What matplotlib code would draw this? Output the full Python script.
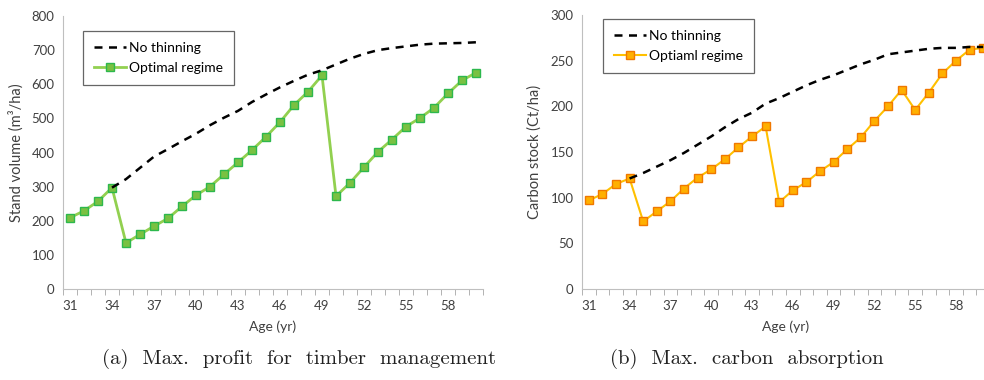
import numpy as np
import matplotlib
matplotlib.use("Agg")
import matplotlib.pyplot as plt

# ages on the category axis
ages = list(range(31, 61))

# (a) stand volume, m3/ha
vol_opt = [209, 229, 257, 297, 135, 160, 184, 207, 242, 275,
           300, 336, 371, 407, 446, 489, 539, 578, 626, 272,
           311, 357, 402, 438, 476, 501, 531, 573, 611, 634]
# no thinning starts at age 34
vol_none = [297, 322, 355, 388, 410, 433, 455, 480, 502, 522,
            548, 570, 591, 610, 628, 641, 658, 675, 689, 700,
            706, 711, 716, 719, 720, 721, 723]

# (b) carbon stock, Ct/ha
c_opt = [97, 104, 115, 121, 74, 85, 96, 110, 122, 131,
         142, 155, 167, 178, 95, 108, 117, 129, 139, 153,
         166, 184, 200, 218, 196, 215, 236, 250, 262, 264]
c_none = [121, 127, 134, 141, 149, 158, 167, 177, 186, 193,
          203, 209, 216, 223, 229, 234, 240, 246, 251, 257,
          259, 261, 263, 264, 264, 265, 265]

font = "Lato"
plt.rcParams["font.family"] = [font, "DejaVu Sans"]

fig = plt.figure(figsize=(9.84, 3.8), dpi=100)
W, H = 984, 380


def make_axes(x0, x1, ytop, ybot):
    return fig.add_axes([x0 / W, 1 - ybot / H, (x1 - x0) / W, (ybot - ytop) / H])


def style(ax, ymax, ystep, ylabel):
    n = len(ages)
    ax.set_xlim(-0.5, n - 0.5)
    ax.set_ylim(0, ymax)
    ax.set_yticks(np.arange(0, ymax + 1, ystep))
    ax.set_xticks(range(0, n, 3))
    ax.set_xticklabels([str(a) for a in ages[::3]])
    ax.set_xticks(np.arange(-0.5, n, 1), minor=True)
    ax.tick_params(axis="x", which="major", length=0, pad=8, labelsize=9.5, colors="#404040")
    ax.tick_params(axis="x", which="minor", length=4, color="#a6a6a6")
    ax.tick_params(axis="y", length=0, pad=6, labelsize=9.5, colors="#404040")
    for s in ["top", "right"]:
        ax.spines[s].set_visible(False)
    for s in ["left", "bottom"]:
        ax.spines[s].set_color("#bfbfbf")
    ax.set_xlabel("Age (yr)", fontsize=10, color="#404040", labelpad=6)
    ax.set_ylabel(ylabel, fontsize=10.5, color="#404040", labelpad=6)


def add_legend(ax, anchor):
    leg = ax.legend(loc="upper left", bbox_to_anchor=anchor, fontsize=10, frameon=True,
                    fancybox=False, edgecolor="#404040", handlelength=2.3, borderpad=0.8,
                    labelspacing=0.55, handletextpad=0.2, borderaxespad=0)
    leg.get_frame().set_linewidth(0.9)


x = np.arange(len(ages))
dash = (0, (3.2, 2.6))

# left panel
ax1 = make_axes(63, 483, 16, 289)
ax1.plot(x[3:], vol_none, color="black", lw=1.8, ls=dash, label="No thinning", zorder=3)
ax1.plot(x, vol_opt, color="#92d050", lw=2, marker="s", ms=5.5, mfc="#7ac142",
         mec="#2db84d", mew=1, label="Optimal regime", zorder=2)
style(ax1, 800, 100, "Stand volume (m³/ha)")
add_legend(ax1, ((83 - 63) / 420, (289 - 31) / 273))

# right panel
ax2 = make_axes(582, 990, 15, 289)
ax2.plot(x[3:], c_none, color="black", lw=1.8, ls=dash, label="No thinning", zorder=3)
ax2.plot(x, c_opt, color="#ffc000", lw=1.5, marker="s", ms=5.5, mfc="#ffb000",
         mec="#f07800", mew=1, label="Optiaml regime", zorder=2)
style(ax2, 300, 50, "Carbon stock (Ct/ha)")
add_legend(ax2, ((603 - 582) / 408, (289 - 19) / 274))

# captions
cap = dict(ha="center", va="center", fontsize=15, family=["cmr10", "DejaVu Serif"], color="#222222")
fig.text(299 / W, 1 - 359 / H, "(a)  Max.  profit  for  timber  management", **cap)
fig.text(747 / W, 1 - 359 / H, "(b)  Max.  carbon  absorption", **cap)

fig.savefig("out.png", dpi=100)
